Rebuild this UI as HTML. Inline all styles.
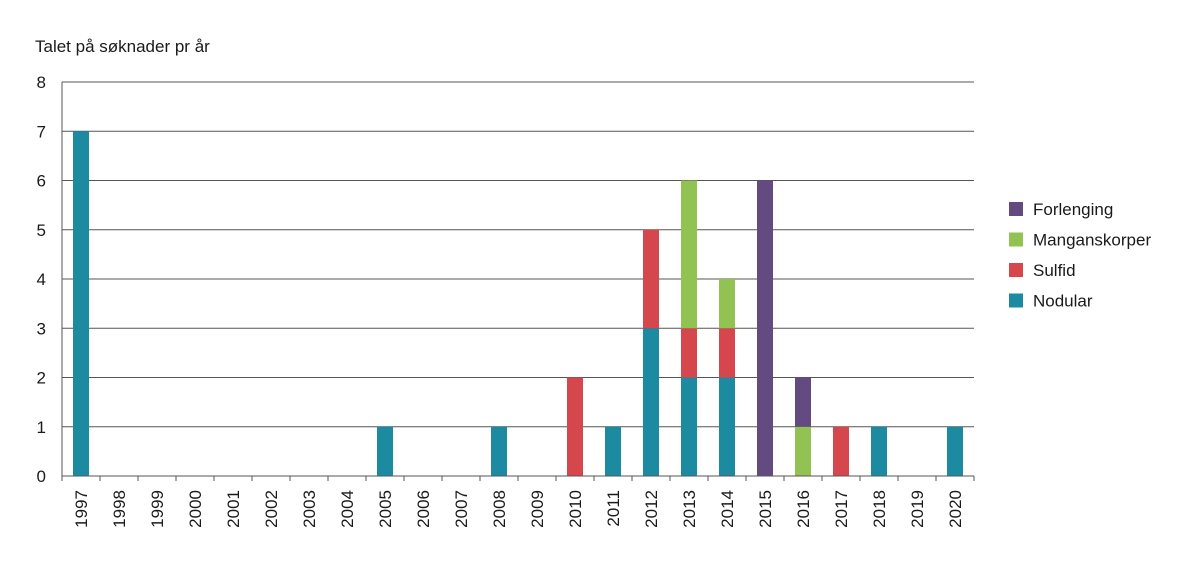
<!DOCTYPE html>
<html><head><meta charset="utf-8"><style>
body{margin:0;background:#fff;}
svg text{font-family:"Liberation Sans",sans-serif;fill:#1a1a1a;}
</style></head><body>
<svg id="chart" width="1198" height="568">
<text x="35" y="52" font-size="17">Talet på søknader pr år</text>
<g id="grid"></g><g id="bars"></g><g id="axes"></g><g id="legend"></g>
</svg>
<script>
const years=["1997","1998","1999","2000","2001","2002","2003","2004","2005","2006","2007","2008","2009","2010","2011","2012","2013","2014","2015","2016","2017","2018","2019","2020"];
const nodular=[7,0,0,0,0,0,0,0,1,0,0,1,0,0,1,3,2,2,0,0,0,1,0,1];
const sulfid=[0,0,0,0,0,0,0,0,0,0,0,0,0,2,0,2,1,1,0,0,1,0,0,0];
const mangan=[0,0,0,0,0,0,0,0,0,0,0,0,0,0,0,0,3,1,0,1,0,0,0,0];
const forlenging=[0,0,0,0,0,0,0,0,0,0,0,0,0,0,0,0,0,0,6,1,0,0,0,0];
const yTicks=[0,1,2,3,4,5,6,7,8];
const seriesNames=["Nodular","Sulfid","Manganskorper","Forlenging"];
const seriesColors=["#1c8aa1","#d5474d","#92c352","#634a80"];
const series=[nodular,sulfid,mangan,forlenging];
const NS="http://www.w3.org/2000/svg";
const x0=62,x1=974,y0=476,yTop=82;
const band=(x1-x0)/years.length;
const yS=v=>y0-(y0-yTop)*v/8;
const xC=i=>x0+band*(i+0.5);
function mk(t,a,p){const e=document.createElementNS(NS,t);for(const k in a)e.setAttribute(k,a[k]);p.appendChild(e);return e;}
const grid=document.getElementById('grid'),bars=document.getElementById('bars'),axes=document.getElementById('axes'),legend=document.getElementById('legend');
yTicks.forEach(v=>{
 if(v>0){const l=mk('line',{x1:x0,x2:x1,y1:yS(v),y2:yS(v),stroke:'#555','stroke-width':1},grid);
 
 }
 const t=mk('text',{x:x0-16,y:yS(v)+6,'font-size':17,'text-anchor':'end'},axes);t.textContent=v;
 
 
});
const ax=mk('line',{x1:x0,x2:x0,y1:yTop,y2:y0,stroke:'#555'},axes);


const bx=mk('line',{x1:x0,x2:x1,y1:y0,y2:y0,stroke:'#555'},axes);


for(let i=0;i<=years.length;i++){const tk=mk('line',{x1:x0+band*i,x2:x0+band*i,y1:y0,y2:y0+5,stroke:'#555'},axes);
 
 }
years.forEach((y,i)=>{
 const t=mk('text',{x:0,y:0,'font-size':17,'text-anchor':'end',transform:`translate(${xC(i)+6},${y0+14}) rotate(-90)`},axes);t.textContent=y;
 
 
 let acc=0;
 series.forEach((s,k)=>{const v=s[i];if(v>0){
  const r=mk('rect',{x:xC(i)-8,y:yS(acc+v),width:16,height:yS(acc)-yS(acc+v),fill:seriesColors[k]},bars);
  
  
  acc+=v;}});
});
[3,2,1,0].forEach((k,j)=>{
 const yy=209+j*30.5;
 const r=mk('rect',{x:1009,y:yy-7,width:14,height:14,fill:seriesColors[k]},legend);
 
 
 const t=mk('text',{x:1033,y:yy+6,'font-size':17},legend);t.textContent=seriesNames[k];
 
 
});
</script>
</body></html>
